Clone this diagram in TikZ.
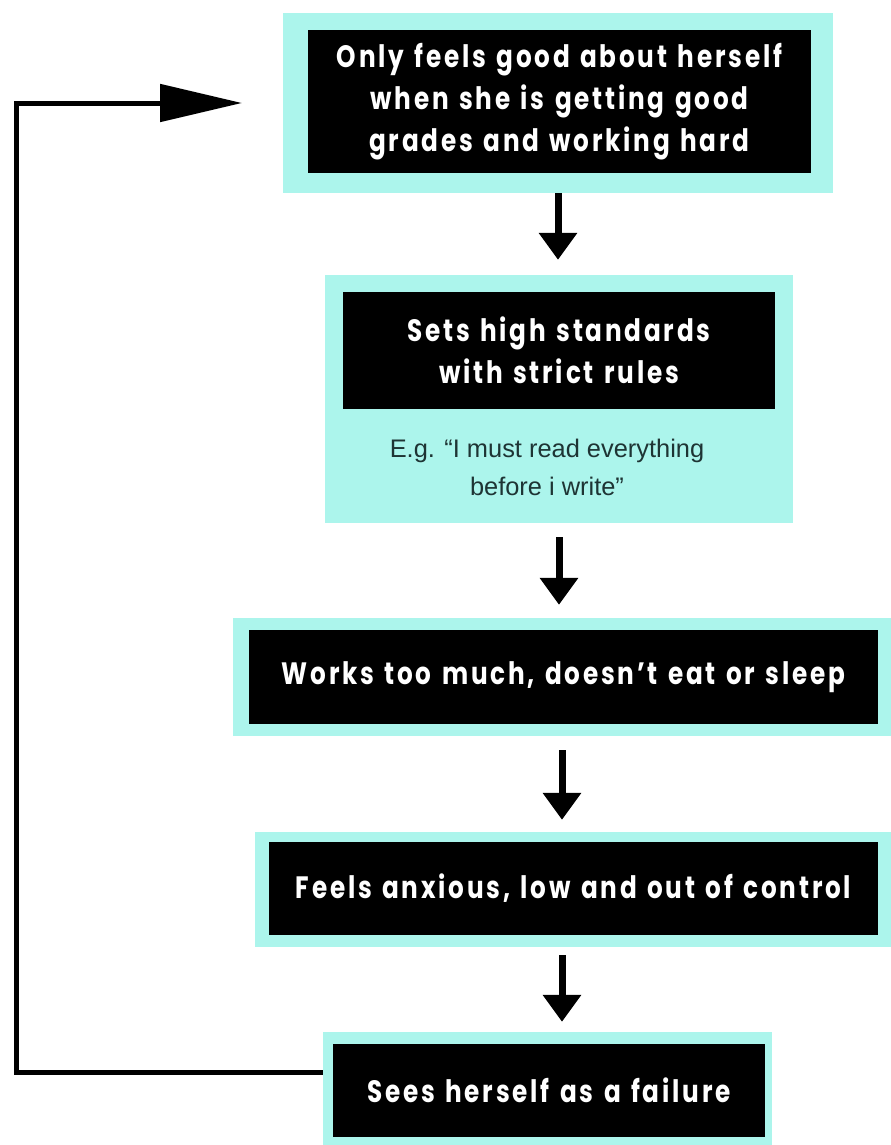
\documentclass[tikz,border=0pt]{standalone}
\usepackage{fontspec}
\usetikzlibrary{arrows.meta,calc}
\newfontfamily\boxfont[FakeStretch=0.8,LetterSpace=9,WordSpace=1.3]{Poppins}
\newfontfamily\subfont{Liberation Sans}
\definecolor{aqua}{RGB}{172,245,236}
\definecolor{subtext}{RGB}{30,52,52}
\tikzset{
  outerbox/.style={rectangle, fill=aqua, draw=none, inner sep=0pt},
  innerbox/.style={rectangle, fill=black, draw=none, text=white, inner sep=0pt, align=center,
    font=\boxfont\bfseries\fontsize{31}{42}\selectfont},
  downarrow/.style={line width=7bp, -{Triangle[length=27bp,width=37bp]}},
  loopline/.style={line width=5bp, -{Triangle[length=82bp,width=37bp]}},
  note/.style={text=subtext, align=center, inner sep=0pt, font=\subfont\fontsize{25.5}{38}\selectfont}
}
\begin{document}
\begin{tikzpicture}[x=1bp,y=-1bp]
\useasboundingbox (0,0) rectangle (891,1145);
\fill[white] (0,0) rectangle (891,1145);

% box 1
\node[outerbox, minimum width=550bp, minimum height=180bp] (o1) at (558,103) {};
\node[innerbox, minimum width=503bp, minimum height=143bp] (i1) at (559.5,101.5)
  {Only feels good about herself\\when she is getting good\\grades and working hard};

% box 2
\node[outerbox, minimum width=468bp, minimum height=248bp] (o2) at (559,399) {};
\node[innerbox, minimum width=432bp, minimum height=117bp] (i2) at (559,350.5)
  {Sets high standards\\with strict rules};
\node[note] (n2) at (547,467) {E.g. “I must read everything\\before i write”};

% box 3
\node[outerbox, minimum width=658bp, minimum height=118bp] (o3) at (562,677) {};
\node[innerbox, minimum width=629bp, minimum height=94bp] (i3) at (563.5,677)
  {Works too much, doesn’t eat or sleep};

% box 4
\node[outerbox, minimum width=636bp, minimum height=115bp] (o4) at (573,889.5) {};
\node[innerbox, minimum width=609bp, minimum height=93bp] (i4) at (573.5,888.5)
  {Feels anxious, low and out of control};

% box 5
\node[outerbox, minimum width=449bp, minimum height=118bp] (o5) at (547.5,1091) {};
\node[innerbox, minimum width=432bp, minimum height=93bp] (i5) at (549,1090.5)
  {Sees herself as a failure};

% down arrows
\draw[downarrow, shorten >=15bp] (o1.south) -- (o1.south |- o2.north);
\draw[downarrow, shorten <=14bp, shorten >=13bp] (o2.south) -- (o2.south |- o3.north);
\draw[downarrow, shorten <=14bp, shorten >=12bp] (o3.south) -- (o3.south |- o4.north);
\draw[downarrow, shorten <=8bp, shorten >=10bp] (o4.south -| o3.south) -- (o5.north -| o3.south);

% feedback loop
\coordinate (cornerB) at (16,1072);
\coordinate (cornerT) at (16,103);
\coordinate (back) at (242,103);
\draw[loopline] (o5.west |- cornerB) -- (cornerB) -- (cornerT) -- (back);
\end{tikzpicture}
\end{document}
